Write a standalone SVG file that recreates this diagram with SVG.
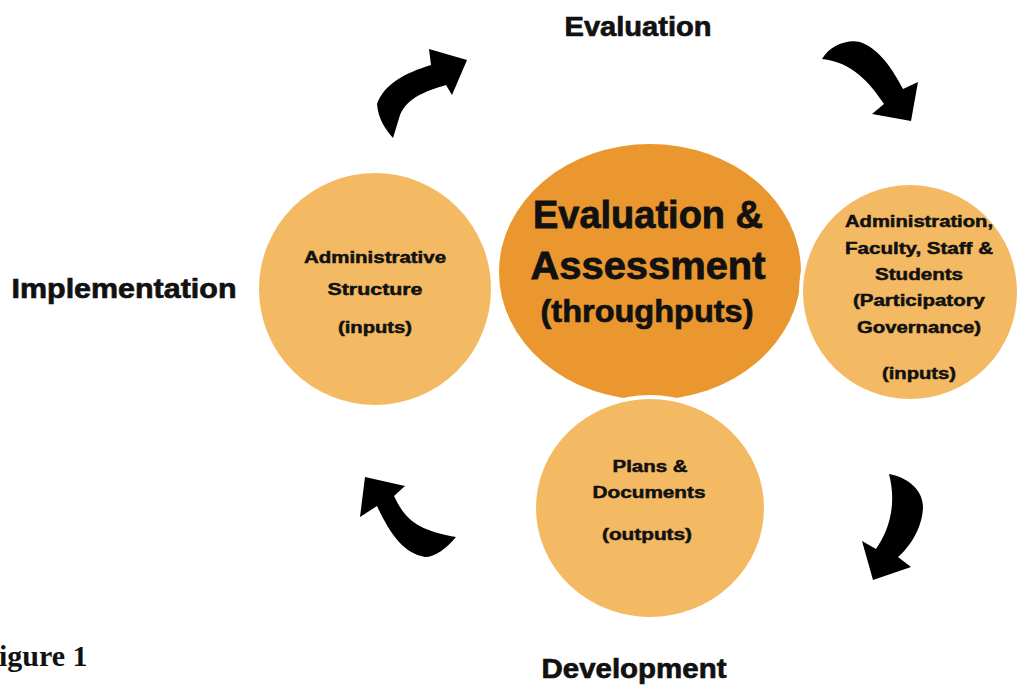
<svg xmlns="http://www.w3.org/2000/svg" width="1021" height="687" viewBox="0 0 1021 687">
<style>
.side{fill:#F4BA63;stroke:#FFFFFF;stroke-width:4}
.core{fill:#EA972F}
.t{font-family:"Liberation Sans",Arial,sans-serif;font-weight:bold;fill:#111;text-anchor:middle;stroke:#111}
.s{font-size:16px;stroke-width:0.5}
.big{font-size:38px;stroke-width:0.8}
.lab{font-size:28px;stroke-width:0.7}
.arrow{fill:#000}
</style>
<rect width="1021" height="687" fill="#FFFFFF"/>
<g id="connectors">
<path class="arrow" d="M377,104 C384,84 405,73 431,65 L429,49 L467,60 L452,95 L446,85 C426,91 408,97 400,115 L393,138 C385,129 378,118 377,104 Z"/>
<path class="arrow" d="M822,59 C830,45 848,39 860,42 C880,49 893,70 903,89 L918,82 L911,121 L872,114 L884,104 C870,83 852,62 822,59 Z"/>
<path class="arrow" d="M889,474 C906,477 922,488 923,506 C923,526 911,546 898,557 L911,567 L873,580 L862,541 L876,549 C889,530 897,505 889,474 Z"/>
<path class="arrow" d="M365,477 L405,486 L394,496 C405,519 416,530 456,537 C446,549 435,557 425,557 C404,553 391,536 377,506 L360,517 Z"/>
</g>
<g id="node-center">
<ellipse class="core" cx="650" cy="272" rx="151" ry="128"/>
</g>
<g id="node-left">
<circle class="side" cx="375" cy="289" r="118"/>
<text class="t s" x="375" y="263" textLength="142" lengthAdjust="spacingAndGlyphs">Administrative</text>
<text class="t s" x="375" y="295" textLength="95" lengthAdjust="spacingAndGlyphs">Structure</text>
<text class="t s" x="375" y="333" textLength="74" lengthAdjust="spacingAndGlyphs">(inputs)</text>
</g>
<g id="node-right">
<circle class="side" cx="910" cy="292" r="109"/>
<text class="t s" x="919" y="227" textLength="148" lengthAdjust="spacingAndGlyphs">Administration,</text>
<text class="t s" x="919" y="254" textLength="148" lengthAdjust="spacingAndGlyphs">Faculty, Staff &amp;</text>
<text class="t s" x="919" y="280" textLength="88" lengthAdjust="spacingAndGlyphs">Students</text>
<text class="t s" x="919" y="306" textLength="132" lengthAdjust="spacingAndGlyphs">(Participatory</text>
<text class="t s" x="919" y="333" textLength="124" lengthAdjust="spacingAndGlyphs">Governance)</text>
<text class="t s" x="919" y="379" textLength="74" lengthAdjust="spacingAndGlyphs">(inputs)</text>
</g>
<g id="node-bottom">
<ellipse class="side" cx="650" cy="508" rx="116" ry="111"/>
<text class="t s" x="650" y="472" textLength="75" lengthAdjust="spacingAndGlyphs">Plans &amp;</text>
<text class="t s" x="649" y="498" textLength="113" lengthAdjust="spacingAndGlyphs">Documents</text>
<text class="t s" x="647" y="540" textLength="90" lengthAdjust="spacingAndGlyphs">(outputs)</text>
</g>
<g id="center-text">
<text class="t big" x="648" y="228" textLength="230" lengthAdjust="spacingAndGlyphs">Evaluation &amp;</text>
<text class="t big" x="648" y="279" textLength="235" lengthAdjust="spacingAndGlyphs">Assessment</text>
<text class="t" style="font-size:31px;stroke-width:0.7" x="647" y="322" textLength="213" lengthAdjust="spacingAndGlyphs">(throughputs)</text>
</g>
<g id="stage-labels">
<text class="t lab" x="638" y="36" textLength="147" lengthAdjust="spacingAndGlyphs">Evaluation</text>
<text class="t lab" x="124" y="298" textLength="225" lengthAdjust="spacingAndGlyphs">Implementation</text>
<text class="t lab" x="634" y="678" textLength="185" lengthAdjust="spacingAndGlyphs">Development</text>
<text x="-1" y="666" style="font-family:'Liberation Serif','Times New Roman',serif;font-weight:bold;font-size:30px;fill:#111">igure 1</text>
</g>
</svg>
